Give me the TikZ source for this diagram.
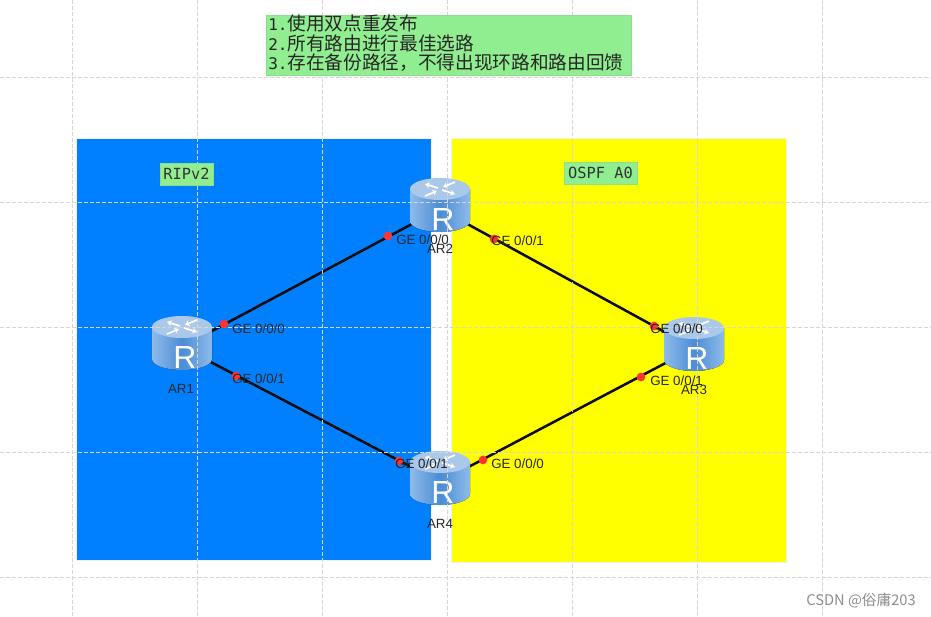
\documentclass[tikz,border=0pt]{standalone}
\usepackage{fontspec}
\setmainfont{Liberation Sans}
\setmonofont{DejaVu Sans Mono}
\newfontfamily\cjk{Noto Sans CJK SC}
\usepackage{xcolor}
\usepackage{tikz}
\usetikzlibrary{positioning, arrows.meta, calc}

\definecolor{ripblue}{HTML}{0080FF}
\definecolor{ospfyellow}{HTML}{FFFF00}
\definecolor{notegreen}{HTML}{90EE90}
\definecolor{gridgray}{HTML}{D6D6D6}
\definecolor{routerlight}{HTML}{8FBBEA}
\definecolor{routermid}{HTML}{4A8CD6}
\definecolor{routertop}{HTML}{A9C8EA}
\definecolor{portred}{HTML}{FF3333}

\tikzset{
  x=0.75pt, y=-0.75pt,
  area/.style    = {draw=white!90!gray, line width=0.4pt, inner sep=0pt, anchor=north west},
  tagbox/.style  = {fill=notegreen, draw=notegreen!85!gray, line width=0.3pt, inner sep=0pt,
                    font=\ttfamily\fontsize{11.5}{13}\selectfont, text=black!80},
  router/.style  = {inner sep=0pt, minimum width=45pt, minimum height=40pt},
  link/.style    = {line width=1.9pt, black!95},
  port/.style    = {circle, fill=portred, inner sep=0pt, minimum size=6.5pt},
  ifname/.style  = {anchor=west, inner sep=0pt, font=\fontsize{10}{12}\selectfont, text=black!85},
  devname/.style = {inner sep=0pt, font=\fontsize{10}{12}\selectfont, text=black!85},
  gridline/.style = {gridgray, line width=0.7pt, dash pattern=on 3pt off 1.5pt},
  pics/routericon/.style = {code = {
    \fill[left color=routerlight, right color=routerlight, middle color=routermid]
      (-30,-20) -- (-30,12) arc[start angle=180, end angle=0, x radius=30, y radius=11]
      -- (30,-20) -- cycle;
    \fill[routertop] (0,-20) ellipse[x radius=30, y radius=11];
    \foreach \sx/\sy in {1/1, -1/-1} {
      \draw[white, line width=1.3pt, -{Stealth[length=3.5pt,width=4.5pt]}]
        (\sx*2,\sy*1-20) -- (\sx*15,\sy*5-20);
      \draw[white, line width=1.3pt, -{Stealth[length=3.5pt,width=4.5pt]}]
        (\sx*15,-\sy*7-20) -- (\sx*3,-\sy*2-20);
    }
    \node[inner sep=0pt, text=white, font=\fontsize{24}{24}\selectfont] at (3,10) {R};
  }}
}

\begin{document}
\begin{tikzpicture}
\useasboundingbox (0,0) rectangle (931,617);

% areas
\node[area, fill=ripblue, minimum width=266pt, minimum height=316.5pt] (rip) at (76,138) {};
\node[area, fill=ospfyellow, minimum width=251pt, minimum height=318pt] (ospf) at (451,138) {};

% routers
\node[router] (ar1) at (182,347) {};
\node[router] (ar2) at (440,209) {};
\node[router] (ar3) at (694,348) {};
\node[router] (ar4) at (440,482) {};

\draw[link] (ar1.center) -- (ar2.center);
\draw[link] (ar2.center) -- (ar3.center);
\draw[link] (ar3.center) -- (ar4.center);
\draw[link] (ar4.center) -- (ar1.center);

\pic at (ar1) {routericon};
\pic at (ar2) {routericon};
\pic at (ar3) {routericon};
\pic at (ar4) {routericon};

% grid on top
\foreach \gx in {72,197,322,447,572,697,822}
  \draw[gridline] (\gx,0) -- (\gx,617);
\foreach \gy in {77,202,327,452,577}
  \draw[gridline] (0,\gy) -- (931,\gy);

% note and tags
\node[fill=notegreen, draw=notegreen!85!gray, line width=0.3pt, anchor=north west, inner sep=0pt,
      minimum width=273.75pt, minimum height=45pt] (note) at (266,15) {};
\node[anchor=north west, inner sep=0pt, align=left, text=black!85,
      font=\cjk\fontsize{14}{14.7}\selectfont] (notetext) at (268,14.5)
  {{\ttfamily\fontsize{12}{14.7}\selectfont 1.}使用双点重发布\\
   {\ttfamily\fontsize{12}{14.7}\selectfont 2.}所有路由进行最佳选路\\
   {\ttfamily\fontsize{12}{14.7}\selectfont 3.}存在备份路径，不得出现环路和路由回馈};
\node[tagbox, minimum width=39.75pt, minimum height=16.5pt] (riptag) at (186.5,174) {RIPv2};
\node[tagbox, minimum width=54.75pt, minimum height=16.5pt] (ospftag) at (600.5,173) {OSPF A0};

% ports
\node[port] (p1) at (224,324) {};
\node[port] (p2) at (236,376) {};
\node[port] (p3) at (388,236) {};
\node[port] (p4) at (494,239) {};
\node[port] (p5) at (654,326) {};
\node[port] (p6) at (641,377) {};
\node[port] (p7) at (399,461) {};
\node[port] (p8) at (483,460) {};

\node[ifname] (l1) at (232,329) {GE 0/0/0};
\node[ifname] (l2) at (232,379) {GE 0/0/1};
\node[ifname] (l3) at (396,240) {GE 0/0/0};
\node[ifname] (l4) at (491,241) {GE 0/0/1};
\node[ifname] (l5) at (650,329) {GE 0/0/0};
\node[ifname] (l6) at (650,381) {GE 0/0/1};
\node[ifname] (l7) at (395,464) {GE 0/0/1};
\node[ifname] (l8) at (491,464) {GE 0/0/0};

\node[devname] (n1) at (181,389) {AR1};
\node[devname] (n2) at (440,249) {AR2};
\node[devname] (n3) at (694,390) {AR3};
\node[devname] (n4) at (440,524) {AR4};

\node[anchor=east, inner sep=0pt, text=black!45, font=\cjk\fontsize{11}{13}\selectfont] (mark) at (916,601)
  {CSDN @俗庸203};
\end{tikzpicture}
\end{document}
